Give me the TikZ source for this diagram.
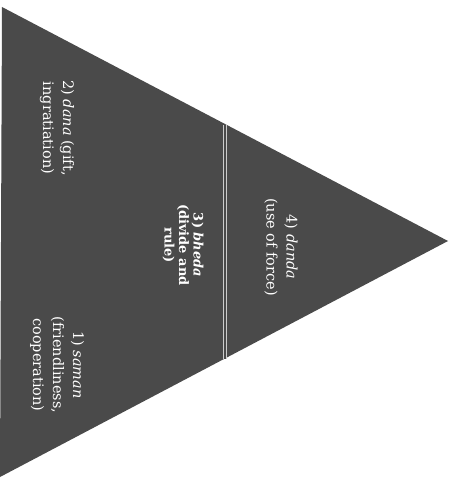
\documentclass[tikz,border=0pt]{standalone}
\usepackage{fontspec}
\setmainfont{DejaVu Serif}
\begin{document}
\begin{tikzpicture}[x=1pt,y=1pt,
  every node/.style = {align=center, text=white, rotate=-90,
    font=\fontsize{14.5}{20}\selectfont},
  tier/.style={fill=black!71, draw=none},
  divider/.style={draw=black!20, line width=1pt, double=black!71, double distance=1.6pt}]
  \useasboundingbox (0,0) rectangle (457,-478);
  % the pyramid, lying on its side
  \coordinate (top) at (2,-7);
  \coordinate (apex) at (448,-241);
  \coordinate (bottom) at (0,-477);
  \fill[tier] (top) -- (apex) -- (bottom) -- cycle;
  \coordinate (dtop) at (225,-125);
  \coordinate (dbottom) at (225,-359);
  \draw[divider] (dtop) -- (dbottom);
  \node (danda) at (281,-247) {4) \textit{danda}\\(use of force)};
  \node[font=\fontsize{13}{14.5}\selectfont\bfseries] (bheda) at (183,-245) {3) \textit{bheda}\\(divide and\\rule)};
  \node (dana) at (57,-128) {2) \textit{dana} (gift,\\ingratiation)};
  \node (saman) at (57,-365) {1) \textit{saman}\\(friendliness,\\cooperation)};
\end{tikzpicture}
\end{document}
